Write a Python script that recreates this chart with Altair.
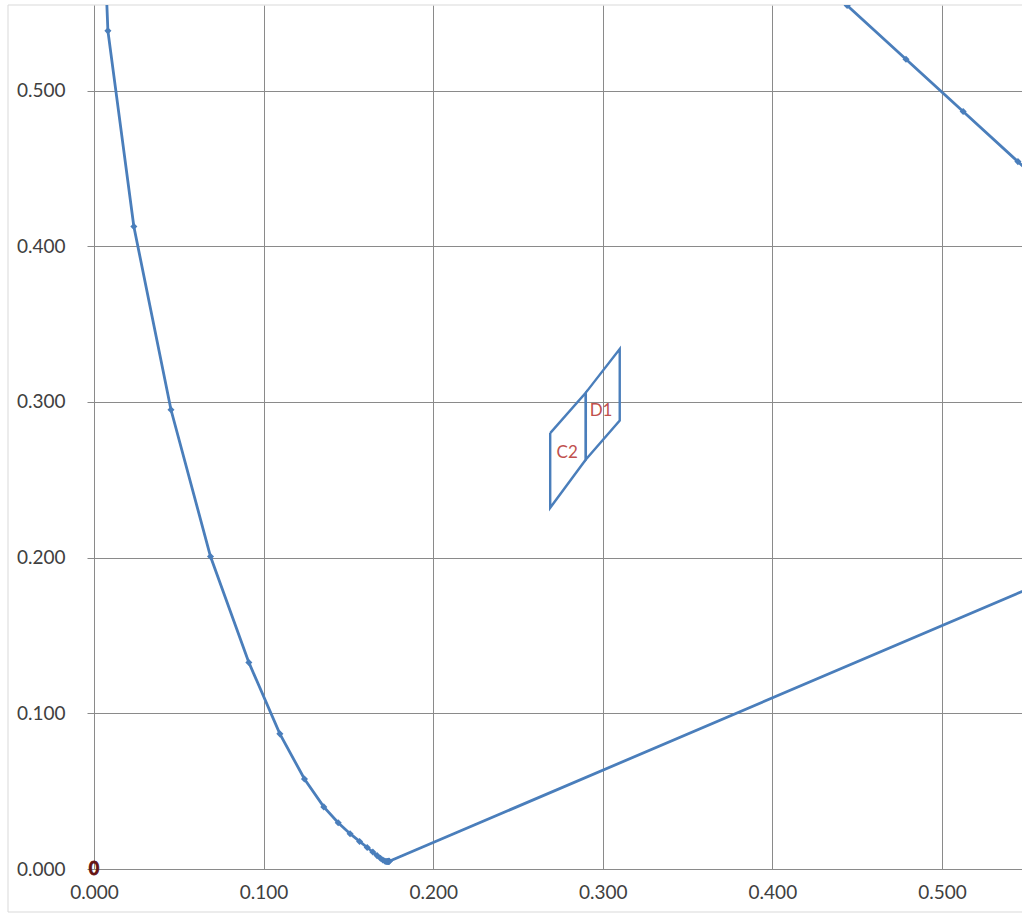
import altair as alt
import pandas as pd

# CIE 1931 spectral locus points (wavelength nm, x, y)
wavelength = [380, 385, 390, 395, 400, 405, 410, 415, 420, 425, 430, 435, 440, 445,
              450, 455, 460, 465, 470, 475, 480, 485, 490, 495, 500, 505, 510, 520,
              540, 560, 565, 570, 575, 580, 585, 590, 780]
locus_x = [0.1741, 0.1740, 0.1738, 0.1736, 0.1733, 0.1730, 0.1726, 0.1721, 0.1714, 0.1703,
           0.1689, 0.1669, 0.1644, 0.1611, 0.1566, 0.1510, 0.1440, 0.1355, 0.1241, 0.1096,
           0.0913, 0.0687, 0.0454, 0.0235, 0.0082, 0.0039, 0.0139, 0.0743, 0.2296, 0.3731,
           0.4087, 0.4441, 0.4788, 0.5125, 0.5448, 0.5752, 0.7347]
locus_y = [0.0050, 0.0050, 0.0049, 0.0049, 0.0048, 0.0048, 0.0048, 0.0048, 0.0051, 0.0058,
           0.0069, 0.0086, 0.0109, 0.0138, 0.0177, 0.0227, 0.0297, 0.0399, 0.0578, 0.0868,
           0.1327, 0.2007, 0.2950, 0.4127, 0.5384, 0.6548, 0.7502, 0.8338, 0.7543, 0.6245,
           0.5896, 0.5547, 0.5202, 0.4866, 0.4544, 0.4242, 0.2653]

# Quadrangles
quad_name = ["C2", "C2", "C2", "C2", "C2", "D1", "D1", "D1", "D1", "D1"]
quad_x = [0.269, 0.290, 0.290, 0.269, 0.269, 0.290, 0.310, 0.310, 0.290, 0.290]
quad_y = [0.280, 0.306, 0.263, 0.232, 0.280, 0.306, 0.334, 0.288, 0.263, 0.306]

label_text = ["C2", "D1"]
label_x = [0.279, 0.299]
label_y = [0.267, 0.294]

zero_text = ["0"]
zero_x = [0.0]
zero_y = [0.0]

ticks = [0.0, 0.1, 0.2, 0.3, 0.4, 0.5]

BLUE = "#4A7EBB"
GRID = "#8a8a8a"
FONT = "Lato"

locus_rows = [{"wl": w, "x": a, "y": b, "o": i} for i, (w, a, b) in enumerate(zip(wavelength, locus_x, locus_y))]
# close the locus with the purple line back to 380 nm
locus_rows.append({"wl": wavelength[0], "x": locus_x[0], "y": locus_y[0], "o": len(locus_rows)})
locus = pd.DataFrame(locus_rows)
markers = pd.DataFrame({"x": locus_x, "y": locus_y})
quads = pd.DataFrame({"name": quad_name, "x": quad_x, "y": quad_y, "o": list(range(len(quad_x)))})
labels = pd.DataFrame({"t": label_text, "x": label_x, "y": label_y})
zero = pd.DataFrame({"t": zero_text, "x": zero_x, "y": zero_y})

xs = alt.Scale(domain=[0, 0.5472], nice=False, zero=False)
ys = alt.Scale(domain=[0, 0.555], nice=False, zero=False)

xax = alt.Axis(values=ticks, format=".3f", title=None, grid=True, gridColor=GRID,
               tickSize=0, labelPadding=14, labelFontSize=19, labelColor="#404040",
               labelFont=FONT, domainColor=GRID, labelFlush=False)
yax = alt.Axis(values=ticks, format=".3f", title=None, grid=True, gridColor=GRID,
               tickSize=7, tickColor=GRID, labelPadding=22, labelFontSize=19,
               labelColor="#404040", labelFont=FONT, domainColor=GRID, labelFlush=False)

base_x = alt.X("x:Q", scale=xs, axis=xax)
base_y = alt.Y("y:Q", scale=ys, axis=yax)

line = alt.Chart(locus).mark_line(color=BLUE, strokeWidth=2.8, clip=True).encode(
    x=base_x, y=base_y, order="o:Q")
pts = alt.Chart(markers).mark_point(shape="diamond", filled=True, color=BLUE, size=50,
                                     opacity=1, clip=True).encode(
    x=alt.X("x:Q", scale=xs), y=alt.Y("y:Q", scale=ys))
quad = alt.Chart(quads).mark_line(color=BLUE, strokeWidth=2.4).encode(
    x=alt.X("x:Q", scale=xs), y=alt.Y("y:Q", scale=ys), detail="name:N", order="o:Q")
txt = alt.Chart(labels).mark_text(color="#C0504D", fontSize=17, font=FONT).encode(
    x=alt.X("x:Q", scale=xs), y=alt.Y("y:Q", scale=ys), text="t:N")
ztxt = alt.Chart(zero).mark_text(color="#6e1414", fontSize=18, fontWeight="bold",
                                  font=FONT, stroke="#5a0f0f", strokeWidth=0.8, dy=1).encode(
    x=alt.X("x:Q", scale=xs), y=alt.Y("y:Q", scale=ys), text="t:N")

border = alt.Chart(pd.DataFrame({"k": [0]})).mark_rule(color="#d9d9d9", strokeWidth=1).encode(
    x=alt.value(-86), y=alt.value(0), y2=alt.value(907))
border_b = alt.Chart(pd.DataFrame({"k": [0]})).mark_rule(color="#d9d9d9", strokeWidth=1).encode(
    x=alt.value(-86), x2=alt.value(930), y=alt.value(907))
border_t = alt.Chart(pd.DataFrame({"k": [0]})).mark_rule(color="#d9d9d9", strokeWidth=1).encode(
    x=alt.value(-86), x2=alt.value(930), y=alt.value(0))

chart = alt.layer(border, border_b, border_t, line, pts, quad, txt, ztxt).properties(
    width=928, height=864,
    padding={"left": 94, "top": 5, "right": 0, "bottom": 48},
    autosize=alt.AutoSizeParams(type="none"),
    background="white",
).configure_view(stroke="transparent")

chart.save("out.html", embed_options={"renderer": "svg", "actions": False})
